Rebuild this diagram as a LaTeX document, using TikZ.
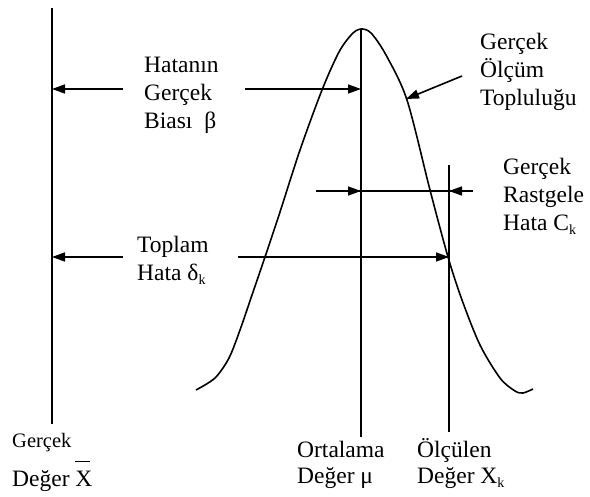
\documentclass[tikz,border=0pt]{standalone}
\usepackage{fontspec}
\setmainfont{Liberation Serif}
\usetikzlibrary{arrows.meta}
\newcommand\subk{\raisebox{-3.5pt}{\fontsize{14}{14}\selectfont k}}
\newcommand\xbarsym{\makebox[0pt][l]{\rule[25pt]{15pt}{1pt}}X}
\begin{document}
\begin{tikzpicture}[x=1pt,y=-1pt,
  ln/.style={line width=1.6pt},
  arr/.style={ln,-{Triangle[length=13pt,width=9pt]}},
  lbl/.style={anchor=base west,inner sep=0pt,font=\fontsize{23.5}{28}\selectfont},
  sml/.style={anchor=base west,inner sep=0pt,font=\fontsize{20.5}{24}\selectfont}]
\useasboundingbox (0,0) rectangle (590,497);
% vertical lines
\coordinate (Ltop) at (52,8);   \coordinate (Lbot) at (52,424);
\coordinate (Mtop) at (361,29); \coordinate (Mbot) at (361,437);
\coordinate (Rtop) at (449,165); \coordinate (Rbot) at (449,432);
\draw[ln] (Ltop) -- (Lbot);
\draw[ln] (Mtop) -- (Mbot);
\draw[ln] (Rtop) -- (Rbot);
% bell curve
\draw[ln] plot[smooth,tension=0.5] coordinates {
 (196,390) (215,378) (229,358) (240,330) (252,295) (265,257) (280,212)
 (300,150) (322,90) (339,52) (352,34) (361,29) (371,33) (386,55)
 (407,100) (430,190) (448,257) (462,300) (480,345) (500,378) (515,391)
 (523,393) (533,389)};
% labels
\node[lbl] (b1) at (144,73) {Hatanın};
\node[lbl] (b2) at (144,101) {Gerçek};
\node[lbl] (b3) at (144,129) {Biası\ \ β};
\node[lbl] (t1) at (480,50) {Gerçek};
\node[lbl] (t2) at (480,78) {Ölçüm};
\node[lbl] (t3) at (480,106) {Topluluğu};
\node[lbl] (r1) at (503,175) {Gerçek};
\node[lbl] (r2) at (503,203) {Rastgele};
\node[lbl] (r3) at (503,231) {Hata C\subk};
\node[lbl] (d1) at (137,253) {Toplam};
\node[lbl] (d2) at (137,281) {Hata δ\subk};
\node[lbl] (o1) at (297,457) {Ortalama};
\node[lbl] (o2) at (297,484) {Değer μ};
\node[lbl] (m1) at (417,458) {Ölçülen};
\node[lbl] (m2) at (417,484) {Değer X\subk};
\node[sml] (g1) at (12,448) {Gerçek};
\node[lbl] (g2) at (12,487) {Değer \xbarsym};
% arrows
\coordinate (bA) at (123,89); \coordinate (bB) at (245,89);
\draw[arr] (bA) -- (bA -| Ltop);
\draw[arr] (bB) -- (bB -| Mtop);
\coordinate (dA) at (123,257); \coordinate (dB) at (238,257);
\draw[arr] (dA) -- (dA -| Ltop);
\draw[arr] (dB) -- (dB -| Rtop);
\coordinate (rA) at (316,191); \coordinate (rB) at (473,191);
\draw[ln] (rA) -- (rB);
\draw[arr] (rA) -- (rA -| Mtop);
\draw[arr] (rB) -- (rB -| Rtop);
\coordinate (tA) at (462,76); \coordinate (tB) at (406,99);
\draw[arr] (tA) -- (tB);
\end{tikzpicture}
\end{document}
